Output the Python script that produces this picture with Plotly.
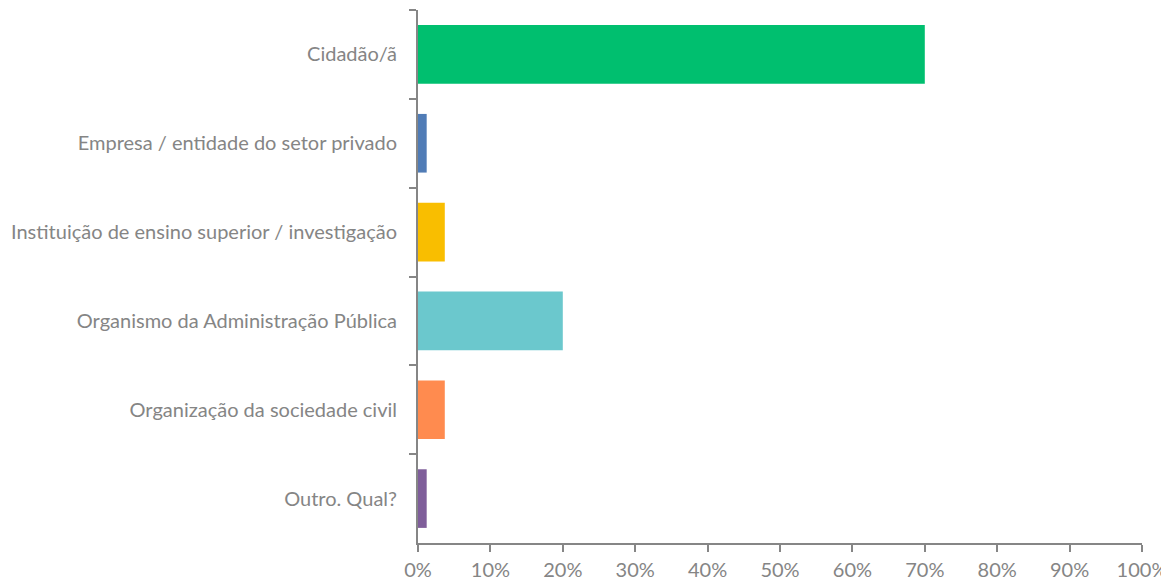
import plotly.graph_objects as go

categories = [
    "Cidadão/ã",
    "Empresa / entidade do setor privado",
    "Instituição de ensino superior / investigação",
    "Organismo da Administração Pública",
    "Organização da sociedade civil",
    "Outro. Qual?",
]
values = [70.0, 1.2, 3.7, 20.0, 3.7, 1.2]
colors = ["#00BF6F", "#507CB6", "#F9BE00", "#6BC8CD", "#FF8B4F", "#7F5E9A"]
x_ticks = [0, 10, 20, 30, 40, 50, 60, 70, 80, 90, 100]
x_tick_labels = [f"{t}%" for t in x_ticks]

fig = go.Figure(
    go.Bar(
        x=values,
        y=categories,
        orientation="h",
        marker=dict(color=colors, line=dict(width=0)),
        width=0.66,
    )
)

font = dict(family="Lato, 'Open Sans', sans-serif", size=20, color="#858585")
fig.update_layout(
    width=1161,
    height=579,
    margin=dict(l=410, r=27, t=2, b=44),
    paper_bgcolor="white",
    plot_bgcolor="white",
    showlegend=False,
    font=font,
    xaxis=dict(
        range=[0, 100],
        tickvals=x_ticks,
        ticktext=x_tick_labels,
        showgrid=False,
        zeroline=False,
        showline=True,
        linecolor="#868686",
        linewidth=2,
        ticks="outside",
        ticklen=7,
        tickwidth=2,
        tickcolor="#868686",
        tickfont=font,
        ticklabelstandoff=1,
        automargin=False,
    ),
    yaxis=dict(
        categoryorder="array",
        categoryarray=categories,
        autorange="reversed",
        showgrid=False,
        zeroline=False,
        showline=True,
        linecolor="#868686",
        linewidth=2,
        ticks="outside",
        tickson="boundaries",
        ticklen=7,
        tickwidth=2,
        tickcolor="#868686",
        tickfont=font,
        ticklabelstandoff=15,
        automargin=False,
    ),
)

fig.write_html("out.html")
